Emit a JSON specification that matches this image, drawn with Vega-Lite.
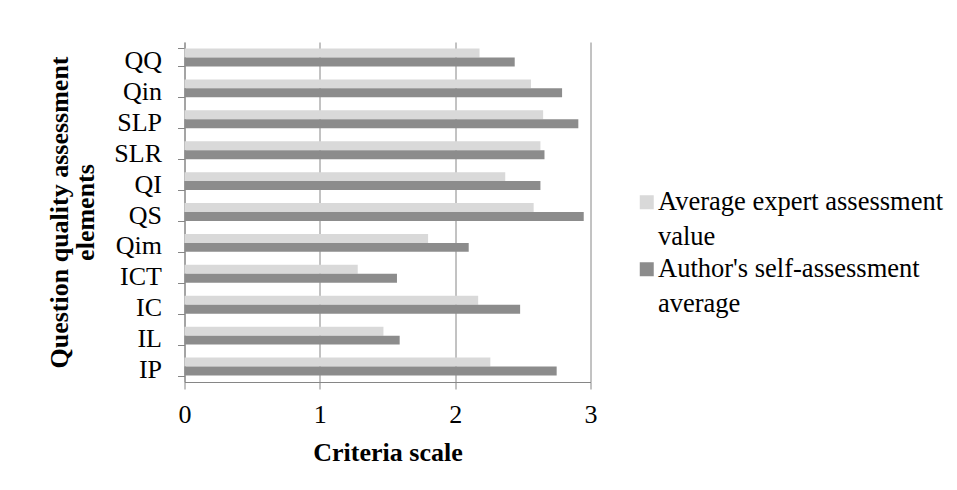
{
  "$schema": "https://vega.github.io/schema/vega-lite/v6.json",
  "width": 406,
  "height": 340,
  "autosize": {"type": "none"},
  "padding": {"left": 184.5, "top": 42, "right": 366.5, "bottom": 108},
  "background": "white",
  "config": {
    "font": "Liberation Serif",
    "view": {"stroke": null},
    "axis": {"labelColor": "black", "titleColor": "black"}
  },
  "data": {
    "values": [
      {"element": "QQ", "series": "Average expert assessment value", "value": 2.18},
      {"element": "QQ", "series": "Author's self-assessment average", "value": 2.44},
      {"element": "Qin", "series": "Average expert assessment value", "value": 2.56},
      {"element": "Qin", "series": "Author's self-assessment average", "value": 2.79},
      {"element": "SLP", "series": "Average expert assessment value", "value": 2.65},
      {"element": "SLP", "series": "Author's self-assessment average", "value": 2.91},
      {"element": "SLR", "series": "Average expert assessment value", "value": 2.63},
      {"element": "SLR", "series": "Author's self-assessment average", "value": 2.66},
      {"element": "QI", "series": "Average expert assessment value", "value": 2.37},
      {"element": "QI", "series": "Author's self-assessment average", "value": 2.63},
      {"element": "QS", "series": "Average expert assessment value", "value": 2.58},
      {"element": "QS", "series": "Author's self-assessment average", "value": 2.95},
      {"element": "Qim", "series": "Average expert assessment value", "value": 1.8},
      {"element": "Qim", "series": "Author's self-assessment average", "value": 2.1},
      {"element": "ICT", "series": "Average expert assessment value", "value": 1.28},
      {"element": "ICT", "series": "Author's self-assessment average", "value": 1.57},
      {"element": "IC", "series": "Average expert assessment value", "value": 2.17},
      {"element": "IC", "series": "Author's self-assessment average", "value": 2.48},
      {"element": "IL", "series": "Average expert assessment value", "value": 1.47},
      {"element": "IL", "series": "Author's self-assessment average", "value": 1.59},
      {"element": "IP", "series": "Average expert assessment value", "value": 2.26},
      {"element": "IP", "series": "Author's self-assessment average", "value": 2.75}
    ]
  },
  "mark": {"type": "bar"},
  "encoding": {
    "y": {
      "field": "element",
      "type": "nominal",
      "sort": ["QQ", "Qin", "SLP", "SLR", "QI", "QS", "Qim", "ICT", "IC", "IL", "IP"],
      "scale": {"paddingInner": 0.42, "paddingOuter": 0.21},
      "axis": {
        "title": ["Question quality assessment", "elements"],
        "titleFontSize": 26,
        "titleFontWeight": "bold",
        "titleLineHeight": 26,
        "titlePadding": 15,
        "labelFontSize": 26,
        "labelPadding": 16,
        "labelOffset": 3,
        "tickSize": 7,
        "tickBand": "extent",
        "tickColor": "#868686",
        "domainColor": "#868686",
        "grid": false
      }
    },
    "yOffset": {
      "field": "series",
      "type": "nominal",
      "sort": ["Average expert assessment value", "Author's self-assessment average"]
    },
    "x": {
      "field": "value",
      "type": "quantitative",
      "scale": {"domain": [0, 3]},
      "axis": {
        "title": "Criteria scale",
        "titleFontSize": 26,
        "titleFontWeight": "bold",
        "titlePadding": 12,
        "values": [0, 1, 2, 3],
        "format": "d",
        "labelFontSize": 26,
        "labelPadding": 12,
        "labelFlush": false,
        "tickSize": 7,
        "tickColor": "#868686",
        "domainColor": "#868686",
        "grid": true,
        "gridColor": "#868686",
        "gridOpacity": 1
      }
    },
    "color": {
      "field": "series",
      "type": "nominal",
      "scale": {
        "domain": ["Average expert assessment value", "Author's self-assessment average"],
        "range": ["#d9d9d9", "#8c8c8c"]
      },
      "legend": {
        "title": null,
        "orient": "none",
        "legendX": 449,
        "legendY": 147,
        "padding": 0,
        "symbolType": "square",
        "symbolSize": 196,
        "symbolStrokeWidth": 0,
        "labelFontSize": 26.5,
        "labelColor": "black",
        "labelLimit": 400,
        "labelBaseline": "top",
        "labelOffset": -2,
        "rowPadding": 5,
        "labelExpr": "datum.label == 'Average expert assessment value' ? ['Average expert assessment', 'value'] : ['Author\\'s self-assessment', 'average']",
        "encode": {
          "labels": {
            "update": {
              "dy": {"value": -13},
              "lineHeight": {"value": 35}
            }
          }
        }
      }
    }
  }
}
